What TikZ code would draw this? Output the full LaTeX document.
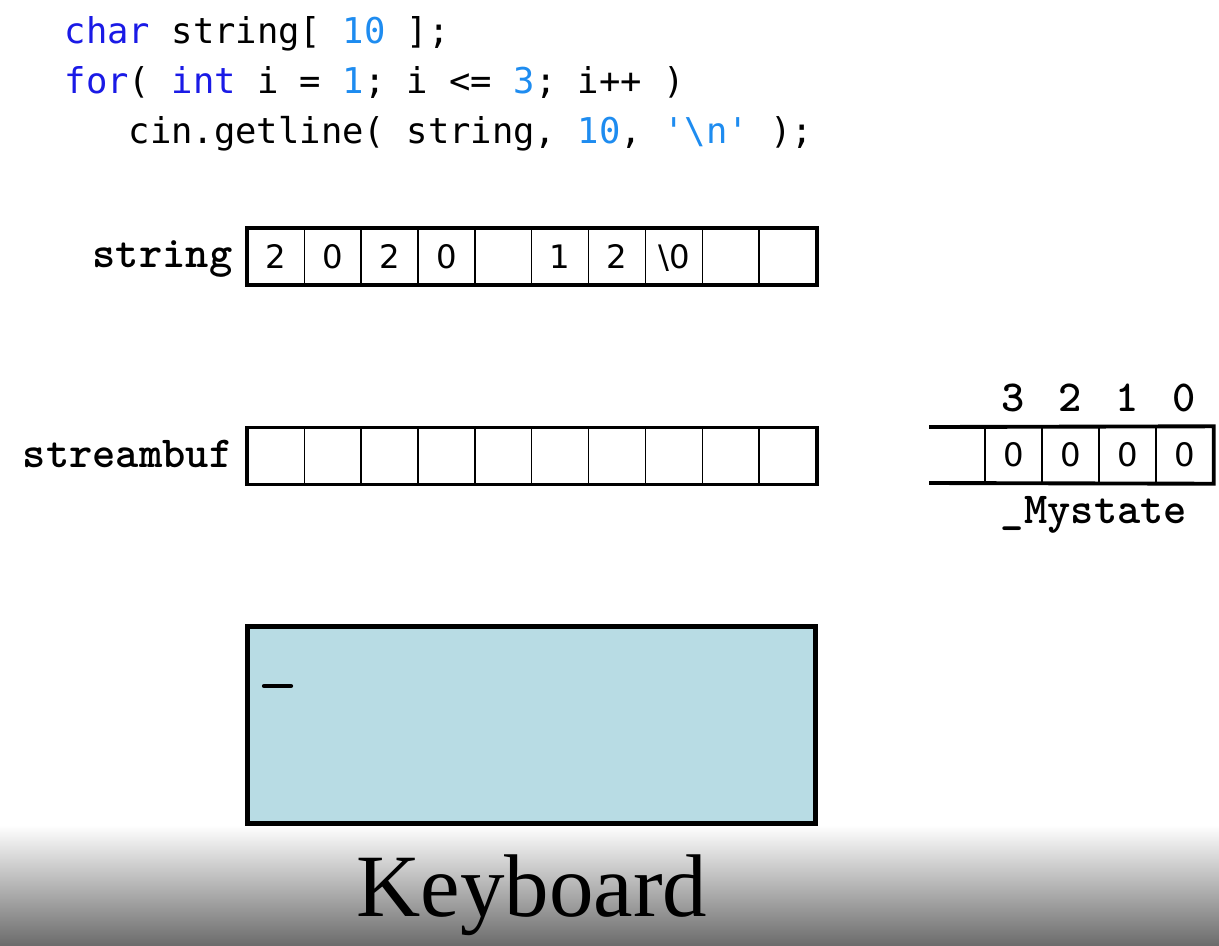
\documentclass[tikz,border=0pt]{standalone}
\usepackage{fontspec}
\newfontfamily\codefont{DejaVu Sans Mono}
\newfontfamily\cellfont{DejaVu Sans}
\newfontfamily\kbfont{Liberation Serif}
\definecolor{kw}{RGB}{26,26,230}
\definecolor{num}{RGB}{30,140,240}
\definecolor{kbfill}{RGB}{184,220,228}
\definecolor{shadebot}{RGB}{108,108,108}
\begin{document}
\begin{tikzpicture}[x=0.01cm,y=-0.01cm,
  code/.style={anchor=base west,inner sep=0,font=\codefont\fontsize{10.1}{12}\selectfont},
  lab/.style={inner sep=0,font=\ttfamily\bfseries\fontsize{12.6}{14}\selectfont},
  cell/.style={draw,line width=0.4pt,minimum width=0.5685cm,minimum height=0.555cm,inner sep=0,
    text height=0.235cm,text depth=0cm,font=\cellfont\fontsize{9.2}{11}\selectfont},
  thickline/.style={line width=1.1pt},
  kbbox/.style={draw,line width=1.4pt,fill=kbfill,minimum width=5.67cm,minimum height=1.96cm,inner sep=0}]
\useasboundingbox (0,0) rectangle (1219,945);
\fill[white] (0,0) rectangle (1219,945);
% code
\node[code] (c1) at (64,43) {\textcolor{kw}{char} string[ \textcolor{num}{10} ];};
\node[code] (c2) at (64,93) {\textcolor{kw}{for}( \textcolor{kw}{int} i = \textcolor{num}{1}; i <= \textcolor{num}{3}; i++ )};
\node[code] (c3) at (128,143) {cin.getline( string, \textcolor{num}{10}, \textcolor{num}{'\textbackslash n'} );};
% string array
\node[lab,anchor=base east] (strlab) at (233,267) {string};
\foreach \v [count=\i] in {2,0,2,0,{},1,2,{\textbackslash 0},{},{}}
  \node[cell] (s\i) at ({247.5+56.85*(\i-0.5)},256.75) {\v};
\draw[thickline] (s1.north west) rectangle (s10.south east);
% streambuf
\node[lab,anchor=base east] (buflab) at (233,467) {streambuf};
\foreach \i in {1,...,10}
  \node[cell] (b\i) at ({247.5+56.85*(\i-0.5)},456) {};
\draw[thickline] (b1.north west) rectangle (b10.south east);
% _Mystate
\foreach \v [count=\i] in {3,2,1,0}{
  \node[cell,minimum width=0.57cm,minimum height=0.56cm] (m\v) at ({985+57*(\i-0.5)},455) {0};
  \node[lab,anchor=base] (idx\v) at ({985+57*(\i-0.5)},411) {\v};
}
\coordinate (mtl) at (929,427);
\coordinate (mbl) at (929,483);
\draw[thickline] (mtl) -- (m0.north east) -- (m0.south east) -- (mbl);
\node[lab,anchor=base] (mys) at (1094,523) {\_Mystate};
% bottom shading
\shade[top color=white,bottom color=shadebot] (0,825) rectangle (1219,945);
% keyboard screen
\node[kbbox] (kb) at (531.5,725) {};
\draw[line width=1.2pt,line cap=round] (264,686) -- (291,686);
\node[anchor=base,inner sep=0,font=\kbfont\fontsize{25.3}{30}\selectfont] (kbl) at (532,916) {Keyboard};
\end{tikzpicture}
\end{document}
